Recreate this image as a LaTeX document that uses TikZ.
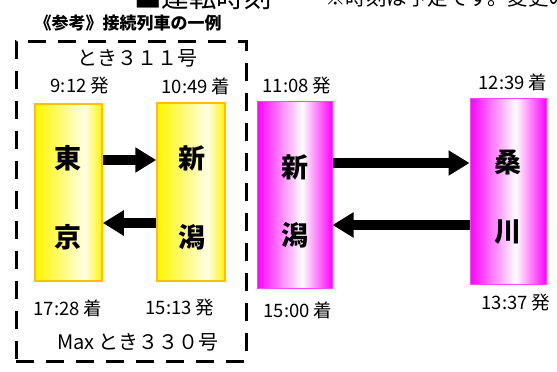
\documentclass[tikz,border=0pt]{standalone}
\usepackage{fontspec}
\setmainfont{Noto Sans CJK JP}
\usetikzlibrary{arrows.meta}
\definecolor{stnyellow}{RGB}{255,246,0}
\definecolor{stnorange}{RGB}{255,192,0}
\definecolor{stnmagenta}{RGB}{255,0,255}
\definecolor{stnpink}{RGB}{255,70,255}
\pgfdeclarehorizontalshading{yshade}{100bp}{color(0bp)=(stnyellow); color(25bp)=(stnyellow); color(62bp)=(stnyellow!10); color(75bp)=(stnyellow); color(100bp)=(stnyellow)}
\pgfdeclarehorizontalshading{mshade}{100bp}{color(0bp)=(stnmagenta); color(25bp)=(stnmagenta); color(55bp)=(white); color(75bp)=(stnmagenta); color(100bp)=(stnmagenta)}

\begin{document}
\begin{tikzpicture}[x=1pt,y=-1pt,
  ybox/.style={draw=stnorange,line width=1.5pt,shade,shading=yshade,inner sep=0pt},
  mbox/.style={draw=stnpink,line width=1pt,shade,shading=mshade,inner sep=0pt},
  stn/.style={font=\bfseries\fontsize{27}{27}\selectfont,inner sep=0pt},
  tm/.style={font=\fontsize{18.5}{18.5}\selectfont,inner sep=0pt},
  train/.style={font=\fontsize{20}{20}\selectfont,inner sep=0pt},
  fat/.style={line width=10pt,-{Triangle[width=24pt,length=21pt]}}]
  \clip (0,0) rectangle (557,372);

  \node[anchor=base west,inner sep=0pt,font=\fontsize{27.5}{27.5}\selectfont] (title) at (134,8) {■運転時刻};
  \node[anchor=base west,inner sep=0pt,font=\fontsize{20.5}{20.5}\selectfont] (caution) at (325,5.5) {※時刻は予定です。変更の};
  \node[inner sep=0pt,font=\bfseries\fontsize{17}{17}\selectfont] (note) at (128,23) {《参考》接続列車の一例};

  \node[draw,line width=3pt,dash pattern=on 18pt off 12pt,minimum width=230pt,minimum height=320pt] (frame) at (131,201) {};

  \node[ybox,minimum width=67pt,minimum height=177pt] (tokyo) at (68.5,192.5) {};
  \node[ybox,minimum width=68pt,minimum height=178pt] (niigataA) at (191,192) {};
  \node[mbox,minimum width=75pt,minimum height=187pt] (niigataB) at (294.5,194.5) {};
  \node[mbox,minimum width=76pt,minimum height=186pt] (kuwagawa) at (508,191) {};

  \node[stn] (to) at (68,158) {東};
  \node[stn] (kyo) at (68,237) {京};
  \node[stn] (shinA) at (192,158) {新};
  \node[stn] (gataA) at (192,237) {潟};
  \node[stn] (shinB) at (295,167) {新};
  \node[stn] (gataB) at (295,235) {潟};
  \node[stn] (kuwa) at (508,163) {桑};
  \node[stn] (gawa) at (508,232) {川};

  \node[train] (down) at (137,58) {とき３１１号};
  \node[train] (up) at (138,342) {Max とき３３０号};

  \node[tm] (dep1) at (80,86) {9:12 発};
  \node[tm] (arr1) at (196,86) {10:49 着};
  \node[tm] (dep2) at (297,86) {11:08 発};
  \node[tm] (arr2) at (513,82) {12:39 着};
  \node[tm] (arr4) at (68,308) {17:28 着};
  \node[tm] (dep4) at (180,308) {15:13 発};
  \node[tm] (arr3) at (298,310) {15:00 着};
  \node[tm] (dep3) at (516,303) {13:37 発};

  \draw[fat] ([yshift=32.5pt]tokyo.east) -- ([yshift=32pt]niigataA.west);
  \draw[fat] ([yshift=-31pt]niigataA.west) -- ([yshift=-30.5pt]tokyo.east);
  \draw[fat] ([yshift=31.5pt]niigataB.east) -- ([yshift=28pt]kuwagawa.west);
  \draw[fat] ([yshift=-34pt]kuwagawa.west) -- ([yshift=-30.5pt]niigataB.east);
\end{tikzpicture}
\end{document}
